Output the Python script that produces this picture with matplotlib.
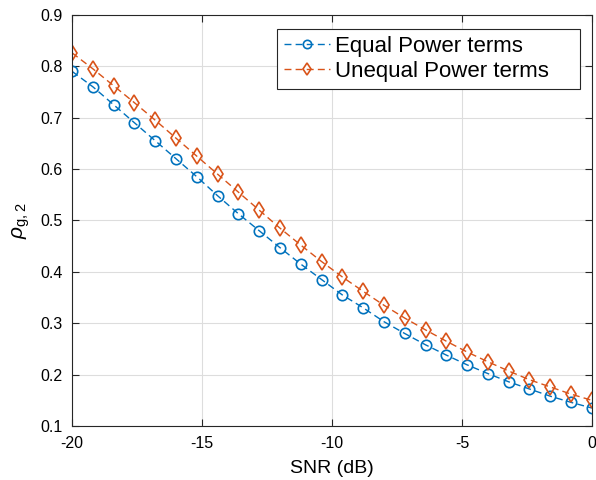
import numpy as np
import matplotlib
matplotlib.use('Agg')
import matplotlib.pyplot as plt

plt.rcParams['font.family'] = ['Liberation Sans', 'DejaVu Sans']
plt.rcParams['mathtext.fontset'] = 'custom'
plt.rcParams['mathtext.rm'] = 'Liberation Sans'
plt.rcParams['mathtext.it'] = 'Liberation Sans:italic'
plt.rcParams['axes.unicode_minus'] = False

# SNR grid in dB
snr = np.round(np.arange(-20, 0.01, 0.8), 1)

equal_power = [0.790, 0.760, 0.725, 0.690, 0.655, 0.620, 0.585, 0.548, 0.513,
               0.480, 0.447, 0.415, 0.385, 0.355, 0.330, 0.303, 0.280, 0.258,
               0.238, 0.219, 0.202, 0.186, 0.172, 0.158, 0.146, 0.135]
unequal_power = [0.826, 0.795, 0.762, 0.729, 0.695, 0.660, 0.625, 0.590, 0.555,
                 0.520, 0.485, 0.452, 0.420, 0.390, 0.362, 0.335, 0.310, 0.287,
                 0.265, 0.244, 0.225, 0.207, 0.190, 0.176, 0.162, 0.150]

fig = plt.figure(figsize=(5.96, 4.8), dpi=100)
ax = fig.add_axes([0.121, 0.1125, 0.872, 0.8565])

ax.plot(snr, equal_power, '--o', color='#0072BD', mfc='none', ms=7.5, lw=1,
        mew=1.2, dashes=(5, 3), label='Equal Power terms')
ax.plot(snr, unequal_power, '--d', color='#D95319', mfc='none', ms=8, lw=1,
        mew=1.2, dashes=(5, 3), label='Unequal Power terms')

ax.set_xlim(-20, 0)
ax.set_ylim(0.1, 0.9)
ax.set_xticks([-20, -15, -10, -5, 0])
ax.set_yticks(np.arange(0.1, 0.91, 0.1))
ax.set_yticklabels(['%.1f' % v for v in np.arange(0.1, 0.91, 0.1)])
ax.grid(True, color='#dddddd', lw=0.8)
ax.set_axisbelow(True)
ax.tick_params(direction='in', top=True, right=True, labelsize=11.5, length=5,
               color='#262626', pad=7)
for s in ax.spines.values():
    s.set_color('#262626')
    s.set_linewidth(0.8)

ax.set_xlabel('SNR (dB)', fontsize=14, labelpad=7)
ax.set_ylabel(r'$\rho_{\mathrm{g},2}$', fontsize=15, labelpad=6)

leg = ax.legend(loc='upper left', fontsize=16, fancybox=False, framealpha=1,
                edgecolor='#262626', borderpad=0.3, handlelength=2.1,
                handletextpad=0.2, labelspacing=0.2, markerscale=0.8,
                borderaxespad=0, mode='expand',
                bbox_to_anchor=(0.394, 0.5, 0.583, 0.466))
leg.get_frame().set_linewidth(0.8)

fig.savefig('out.png', dpi=100)
